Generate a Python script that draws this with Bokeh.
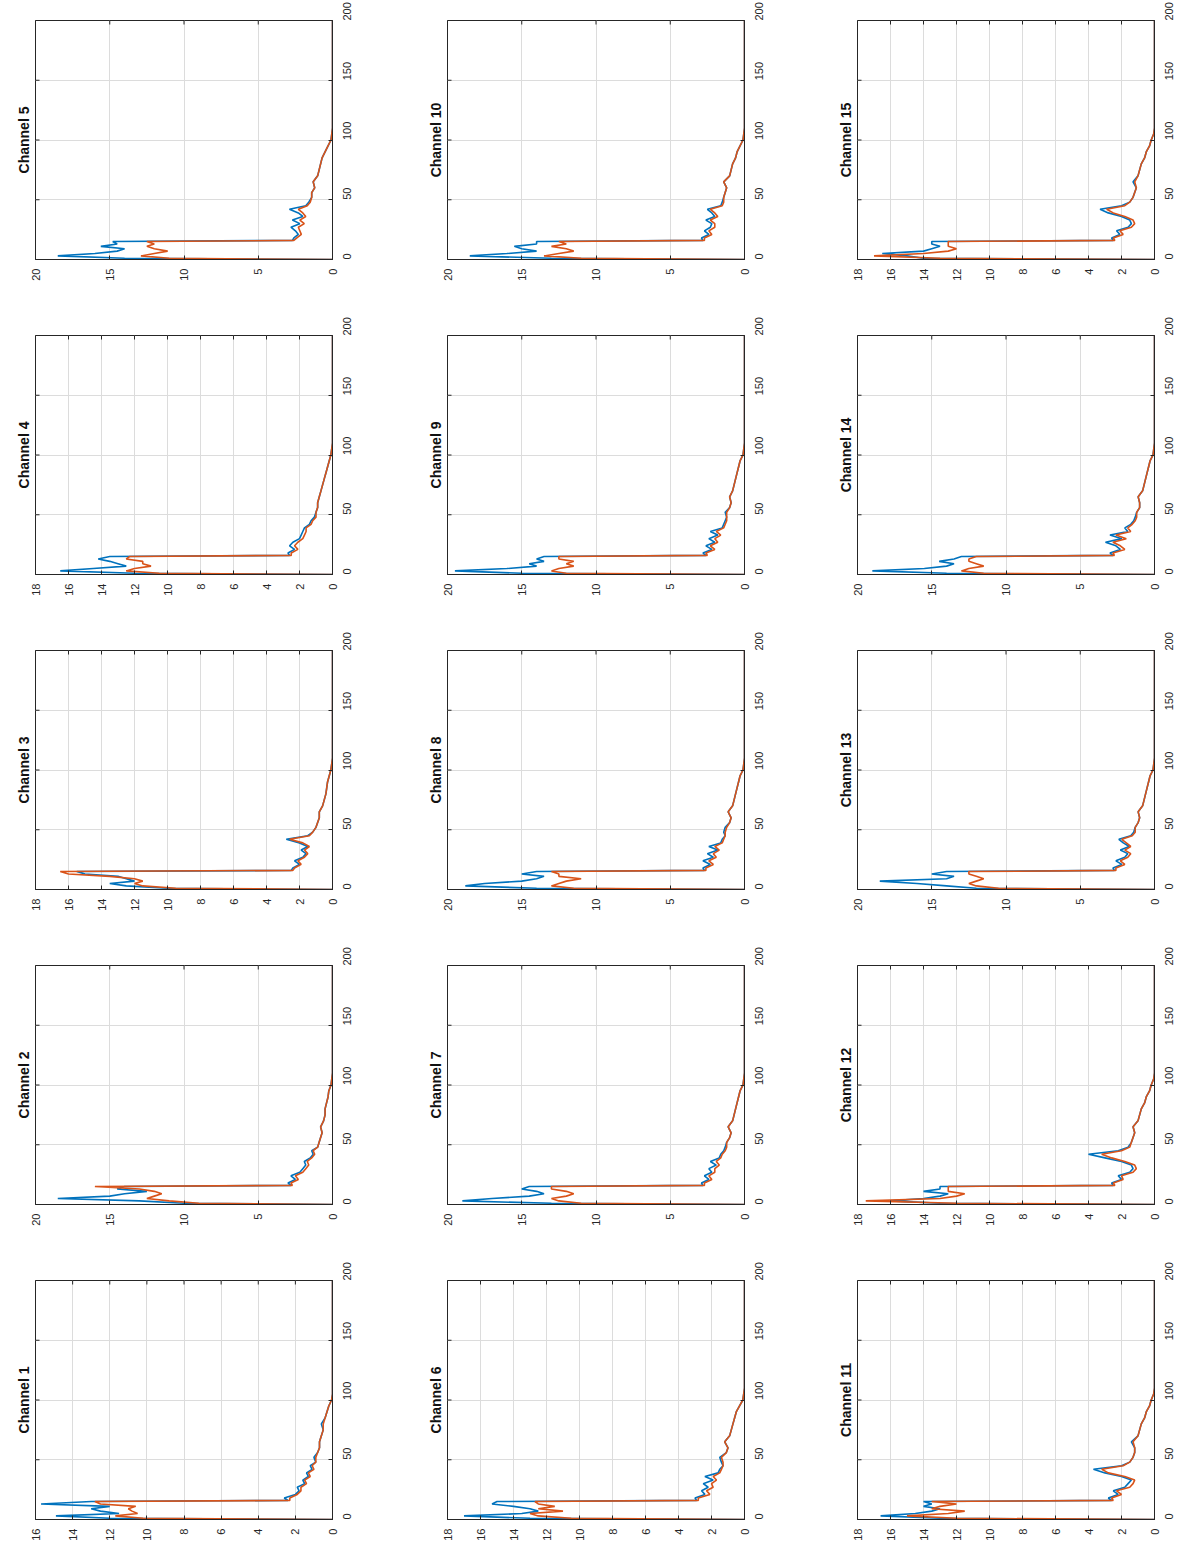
from math import pi
from bokeh.plotting import figure
from bokeh.models import Range1d, FixedTicker, Title, ColumnDataSource
from bokeh.layouts import gridplot
from bokeh.embed import file_html
from bokeh.resources import INLINE

# sample positions (x of original plots)
X = [0, 1, 3, 5, 7, 9, 11, 13, 15, 16, 18, 21, 24, 27, 30, 33, 36, 39, 42, 45, 48,
     52, 56, 60, 65, 70, 75, 80, 85, 90, 95, 100, 105, 110, 200]
SAMPLE_TICKS = [0, 50, 100, 150, 200]
CHANNELS = ["Channel %d" % i for i in range(1, 16)]
VMAX = [16, 20, 18, 18, 20, 18, 20, 20, 20, 20, 18, 18, 20, 20, 18]
VTICKS = {16: [0, 2, 4, 6, 8, 10, 12, 14, 16],
          18: [0, 2, 4, 6, 8, 10, 12, 14, 16, 18],
          20: [0, 5, 10, 15, 20]}

B1 = [0, 12.0, 14.9, 11.5, 12.5, 13.0, 12.0, 15.7, 13.0, 2.4, 2.6, 2.0, 1.8, 1.9, 1.5, 1.6, 1.3, 1.4, 1.1, 1.2, 0.9, 1.0, 0.8, 0.7, 0.7, 0.6, 0.5, 0.6, 0.4, 0.3, 0.2, 0.05, 0, 0, 0]
O1 = [0, 10.2, 11.7, 10.5, 10.8, 11.0, 10.6, 12.5, 12.8, 2.3, 2.3, 1.9, 1.7, 1.7, 1.4, 1.5, 1.2, 1.3, 1.0, 1.1, 0.9, 0.9, 0.8, 0.7, 0.7, 0.6, 0.5, 0.5, 0.4, 0.3, 0.2, 0.05, 0, 0, 0]
B2 = [0, 10.0, 13.0, 18.5, 15.0, 14.0, 12.5, 14.5, 14.0, 2.8, 3.0, 2.5, 2.8, 2.2, 2.0, 1.8, 1.9, 1.5, 1.3, 1.4, 1.0, 0.9, 0.8, 0.7, 0.8, 0.6, 0.5, 0.5, 0.4, 0.3, 0.25, 0.1, 0.05, 0, 0]
O2 = [0, 9.0, 11.0, 12.5, 12.0, 11.5, 12.0, 13.0, 16.0, 2.7, 2.8, 2.3, 2.5, 2.0, 1.8, 1.6, 1.7, 1.4, 1.2, 1.3, 1.0, 0.9, 0.8, 0.7, 0.8, 0.6, 0.5, 0.5, 0.4, 0.3, 0.25, 0.1, 0.05, 0, 0]
B3 = [0, 10.0, 12.5, 13.5, 12.0, 12.5, 13.0, 15.0, 15.5, 2.5, 2.4, 2.0, 2.3, 1.8, 1.6, 1.9, 1.5, 2.0, 2.8, 1.5, 1.2, 1.0, 0.9, 0.8, 0.8, 0.6, 0.5, 0.4, 0.35, 0.3, 0.2, 0.1, 0.05, 0, 0]
O3 = [0, 9.5, 11.5, 12.0, 11.5, 12.0, 13.5, 16.0, 16.5, 2.4, 2.3, 1.9, 2.1, 1.7, 1.5, 1.7, 1.4, 1.8, 2.6, 1.4, 1.2, 1.0, 0.9, 0.8, 0.8, 0.6, 0.5, 0.4, 0.35, 0.3, 0.2, 0.1, 0.05, 0, 0]
B4 = [0, 12.0, 16.5, 14.5, 12.5, 13.0, 13.5, 14.2, 13.5, 2.6, 2.7, 2.3, 2.6, 2.4, 2.0, 1.9, 1.8, 1.7, 1.4, 1.3, 1.1, 1.0, 0.9, 0.9, 0.8, 0.7, 0.6, 0.5, 0.4, 0.3, 0.2, 0.1, 0.05, 0, 0]
O4 = [0, 10.5, 12.5, 12.0, 11.0, 11.5, 11.5, 12.5, 12.3, 2.5, 2.5, 2.1, 2.3, 2.1, 1.8, 1.7, 1.6, 1.6, 1.3, 1.2, 1.0, 1.0, 0.9, 0.9, 0.8, 0.7, 0.6, 0.5, 0.4, 0.3, 0.2, 0.1, 0.05, 0, 0]
B5 = [0, 14.0, 18.5, 16.0, 14.5, 14.0, 15.6, 14.5, 14.8, 2.7, 2.6, 2.3, 2.5, 2.8, 2.2, 2.7, 2.0, 2.3, 2.9, 1.8, 1.6, 1.4, 1.4, 1.2, 1.3, 1.0, 0.9, 0.8, 0.7, 0.5, 0.3, 0.1, 0.05, 0, 0]
O5 = [0, 11.0, 12.9, 12.0, 11.1, 12.0, 12.5, 12.0, 12.5, 2.6, 2.4, 2.1, 2.2, 2.3, 1.9, 2.2, 1.8, 2.0, 2.3, 1.7, 1.5, 1.4, 1.4, 1.2, 1.3, 1.0, 0.9, 0.8, 0.7, 0.5, 0.3, 0.1, 0.05, 0, 0]
B6 = [0, 13.0, 17.0, 13.5, 12.5, 13.0, 14.0, 15.3, 15.0, 2.9, 3.0, 2.4, 2.6, 2.2, 2.5, 1.9, 2.4, 1.6, 1.5, 1.3, 1.4, 1.5, 1.1, 1.0, 1.2, 0.9, 0.8, 0.7, 0.6, 0.5, 0.3, 0.1, 0.05, 0, 0]
O6 = [0, 10.5, 12.5, 13.0, 11.0, 12.5, 11.5, 12.5, 12.7, 2.8, 2.8, 2.1, 2.3, 1.9, 2.0, 1.7, 1.9, 1.5, 1.4, 1.3, 1.3, 1.4, 1.1, 1.0, 1.2, 0.9, 0.8, 0.7, 0.6, 0.5, 0.3, 0.1, 0.05, 0, 0]
B7 = [0, 13.0, 19.0, 17.0, 14.5, 13.5, 14.0, 15.0, 14.5, 2.8, 2.9, 2.4, 2.7, 2.2, 2.4, 1.9, 2.3, 1.7, 1.6, 1.4, 1.3, 1.2, 1.0, 0.9, 1.1, 0.8, 0.7, 0.6, 0.5, 0.4, 0.3, 0.1, 0.05, 0, 0]
O7 = [0, 11.0, 12.5, 13.0, 12.0, 11.5, 12.0, 13.0, 13.0, 2.7, 2.7, 2.2, 2.4, 2.0, 2.0, 1.7, 1.9, 1.6, 1.5, 1.3, 1.2, 1.2, 1.0, 0.9, 1.1, 0.8, 0.7, 0.6, 0.5, 0.4, 0.3, 0.1, 0.05, 0, 0]
B8 = [0, 14.0, 18.8, 17.5, 15.0, 14.0, 13.5, 15.0, 14.0, 2.7, 2.8, 2.3, 2.8, 2.1, 2.5, 1.8, 2.4, 1.6, 1.5, 1.3, 1.4, 1.3, 1.0, 0.9, 1.1, 0.8, 0.7, 0.6, 0.5, 0.4, 0.3, 0.1, 0.05, 0, 0]
O8 = [0, 11.5, 13.0, 12.5, 12.0, 11.0, 12.5, 12.5, 13.0, 2.6, 2.6, 2.1, 2.4, 1.9, 2.1, 1.7, 2.0, 1.5, 1.4, 1.3, 1.3, 1.2, 1.0, 0.9, 1.1, 0.8, 0.7, 0.6, 0.5, 0.4, 0.3, 0.1, 0.05, 0, 0]
B9 = [0, 15.0, 19.5, 16.0, 14.0, 14.5, 13.5, 14.0, 13.5, 2.6, 2.8, 2.2, 2.6, 2.0, 2.4, 1.8, 2.3, 1.5, 1.4, 1.3, 1.2, 1.3, 1.0, 0.9, 1.0, 0.8, 0.7, 0.6, 0.5, 0.4, 0.3, 0.1, 0.05, 0, 0]
O9 = [0, 12.0, 13.0, 12.5, 11.5, 12.0, 11.5, 12.5, 12.5, 2.5, 2.6, 2.0, 2.3, 1.8, 2.0, 1.6, 1.9, 1.4, 1.3, 1.2, 1.2, 1.2, 1.0, 0.9, 1.0, 0.8, 0.7, 0.6, 0.5, 0.4, 0.3, 0.1, 0.05, 0, 0]
B10 = [0, 13.0, 18.5, 16.0, 14.0, 15.0, 15.5, 14.0, 14.0, 2.8, 2.9, 2.4, 2.7, 2.3, 2.2, 2.6, 2.0, 2.2, 2.5, 1.6, 1.5, 1.4, 1.3, 1.2, 1.4, 1.0, 0.9, 0.8, 0.6, 0.5, 0.3, 0.1, 0.05, 0, 0]
O10 = [0, 11.0, 13.5, 12.5, 11.5, 12.0, 13.0, 12.0, 12.5, 2.7, 2.7, 2.2, 2.4, 2.0, 2.0, 2.3, 1.8, 2.0, 2.3, 1.5, 1.4, 1.4, 1.3, 1.2, 1.4, 1.0, 0.9, 0.8, 0.6, 0.5, 0.3, 0.1, 0.05, 0, 0]
B11 = [0, 13.0, 16.6, 14.5, 13.5, 13.0, 14.0, 13.5, 14.0, 2.6, 2.8, 2.2, 2.5, 1.8, 1.6, 1.4, 2.0, 3.0, 3.7, 2.0, 1.5, 1.3, 1.2, 1.2, 1.4, 1.0, 0.9, 0.8, 0.6, 0.5, 0.3, 0.2, 0.05, 0, 0]
O11 = [0, 12.0, 15.0, 12.5, 11.5, 13.5, 13.0, 12.0, 13.5, 2.5, 2.6, 2.0, 2.3, 1.5, 1.3, 1.2, 1.8, 2.8, 3.2, 1.9, 1.5, 1.3, 1.2, 1.2, 1.3, 1.0, 0.9, 0.8, 0.6, 0.5, 0.3, 0.2, 0.05, 0, 0]
B12 = [0, 13.0, 16.0, 14.0, 13.0, 12.5, 14.0, 13.0, 13.0, 2.5, 2.6, 2.0, 2.2, 1.5, 1.3, 1.4, 2.0, 3.0, 4.0, 2.2, 1.6, 1.4, 1.3, 1.2, 1.3, 1.0, 0.9, 0.8, 0.6, 0.5, 0.3, 0.2, 0.05, 0, 0]
O12 = [0, 12.0, 17.5, 13.0, 12.0, 11.5, 12.5, 12.5, 12.5, 2.4, 2.5, 1.9, 2.0, 1.3, 1.1, 1.2, 1.8, 2.6, 3.2, 2.0, 1.5, 1.4, 1.3, 1.2, 1.3, 1.0, 0.9, 0.8, 0.6, 0.5, 0.3, 0.2, 0.05, 0, 0]
B13 = [0, 12.0, 14.0, 16.0, 18.5, 14.0, 13.5, 15.0, 14.0, 2.7, 2.8, 2.2, 2.6, 2.0, 1.8, 2.3, 1.7, 2.1, 2.4, 1.6, 1.4, 1.3, 1.1, 1.0, 1.1, 0.8, 0.7, 0.6, 0.5, 0.4, 0.3, 0.1, 0.05, 0, 0]
O13 = [0, 10.5, 12.0, 12.5, 12.0, 11.5, 12.0, 12.5, 12.5, 2.6, 2.6, 2.0, 2.3, 1.8, 1.6, 2.0, 1.6, 1.9, 2.2, 1.5, 1.3, 1.3, 1.1, 1.0, 1.1, 0.8, 0.7, 0.6, 0.5, 0.4, 0.3, 0.1, 0.05, 0, 0]
B14 = [0, 14.0, 19.0, 15.5, 14.0, 13.5, 14.5, 13.5, 13.0, 2.8, 3.0, 2.3, 2.6, 3.3, 2.2, 3.0, 1.8, 2.0, 1.6, 1.4, 1.3, 1.2, 1.0, 1.0, 1.1, 0.8, 0.7, 0.6, 0.5, 0.4, 0.3, 0.1, 0.05, 0, 0]
O14 = [0, 11.5, 13.0, 12.5, 11.5, 12.0, 12.5, 12.5, 12.0, 2.7, 2.8, 2.0, 2.3, 2.8, 1.9, 2.6, 1.6, 1.8, 1.5, 1.3, 1.2, 1.2, 1.0, 1.0, 1.1, 0.8, 0.7, 0.6, 0.5, 0.4, 0.3, 0.1, 0.05, 0, 0]
B15 = [0, 14.0, 15.0, 16.5, 14.0, 13.5, 13.0, 13.5, 13.5, 2.5, 2.6, 2.1, 2.3, 1.6, 1.4, 1.5, 2.0, 2.8, 3.3, 2.0, 1.5, 1.3, 1.2, 1.1, 1.3, 1.0, 0.9, 0.8, 0.6, 0.5, 0.3, 0.2, 0.05, 0, 0]
O15 = [0, 13.0, 17.0, 14.0, 12.5, 12.0, 12.5, 12.5, 12.5, 2.4, 2.5, 1.9, 2.1, 1.4, 1.2, 1.3, 1.8, 2.5, 2.9, 1.8, 1.5, 1.3, 1.2, 1.1, 1.2, 1.0, 0.9, 0.8, 0.6, 0.5, 0.3, 0.2, 0.05, 0, 0]

BLUE_SERIES = [B1, B2, B3, B4, B5, B6, B7, B8, B9, B10, B11, B12, B13, B14, B15]
ORANGE_SERIES = [O1, O2, O3, O4, O5, O6, O7, O8, O9, O10, O11, O12, O13, O14, O15]

BLUE = "#0072BD"
ORANGE = "#D95319"
AX = "#262626"
FONT = "Liberation Sans"

FRAME_W, FRAME_H = 297, 239
COL_LEFT = [35, 28, 26]
COL_RIGHT = [87, 87, 30]
ROW_TOP = [20, 20, 20, 20, 20]
ROW_BOTTOM = [56, 56, 56, 56, 25]


def style_axis(ax, ticks, standoff):
    ax.ticker = FixedTicker(ticks=ticks)
    ax.major_tick_in = 4
    ax.major_tick_out = 0
    ax.minor_tick_line_color = None
    ax.major_tick_line_color = AX
    ax.axis_line_color = AX
    ax.major_label_orientation = pi / 2
    ax.major_label_text_font = FONT
    ax.major_label_text_color = AX
    ax.major_label_text_font_size = "11px"
    ax.major_label_standoff = standoff


def make(i):
    vmax = VMAX[i]
    vt = VTICKS[vmax]
    dc = i // 5
    dr = 4 - (i % 5)
    lb, rb, tb, bb = COL_LEFT[dc], COL_RIGHT[dc], ROW_TOP[dr], ROW_BOTTOM[dr]
    p = figure(width=lb + FRAME_W + rb, height=tb + FRAME_H + bb,
               x_range=Range1d(vmax, 0), y_range=Range1d(0, 200),
               y_axis_location="right", output_backend="svg", toolbar_location=None,
               min_border_left=lb, min_border_right=rb, min_border_top=tb, min_border_bottom=bb)
    p.background_fill_color = "white"
    p.border_fill_color = "white"
    p.outline_line_color = AX
    p.outline_line_width = 1
    style_axis(p.xaxis[0], vt, 9)
    style_axis(p.yaxis[0], SAMPLE_TICKS, 14)
    p.xgrid.ticker = FixedTicker(ticks=vt)
    p.ygrid.ticker = FixedTicker(ticks=SAMPLE_TICKS)
    p.xgrid.grid_line_color = "#dcdcdc"
    p.ygrid.grid_line_color = "#dcdcdc"
    # inward tick marks on the opposite box edges (clipped to the frame)
    p.scatter(x=vt, y=[200] * len(vt), marker="dash", angle=pi / 2, size=8,
              line_color=AX, line_width=1)
    p.scatter(x=[vmax] * len(SAMPLE_TICKS), y=SAMPLE_TICKS, marker="dash", size=8,
              line_color=AX, line_width=1)
    n = min(len(X), len(BLUE_SERIES[i]), len(ORANGE_SERIES[i]))
    src = ColumnDataSource(dict(s=X[:n], b=BLUE_SERIES[i][:n], o=ORANGE_SERIES[i][:n]))
    p.line(x="b", y="s", source=src, line_color=BLUE, line_width=1.6)
    p.line(x="o", y="s", source=src, line_color=ORANGE, line_width=1.6)
    p.add_layout(Title(text=CHANNELS[i], align="center", text_font_size="14px",
                       text_font_style="bold", text_font=FONT, text_color="#111111",
                       standoff=8), "left")
    return p


figs = {}
for i in range(15):
    figs[(4 - (i % 5), i // 5)] = make(i)

rows = [[figs[(r, c)] for c in range(3)] for r in range(5)]
grid = gridplot(rows, toolbar_location=None)

open("out.html", "w").write(file_html(grid, INLINE))
